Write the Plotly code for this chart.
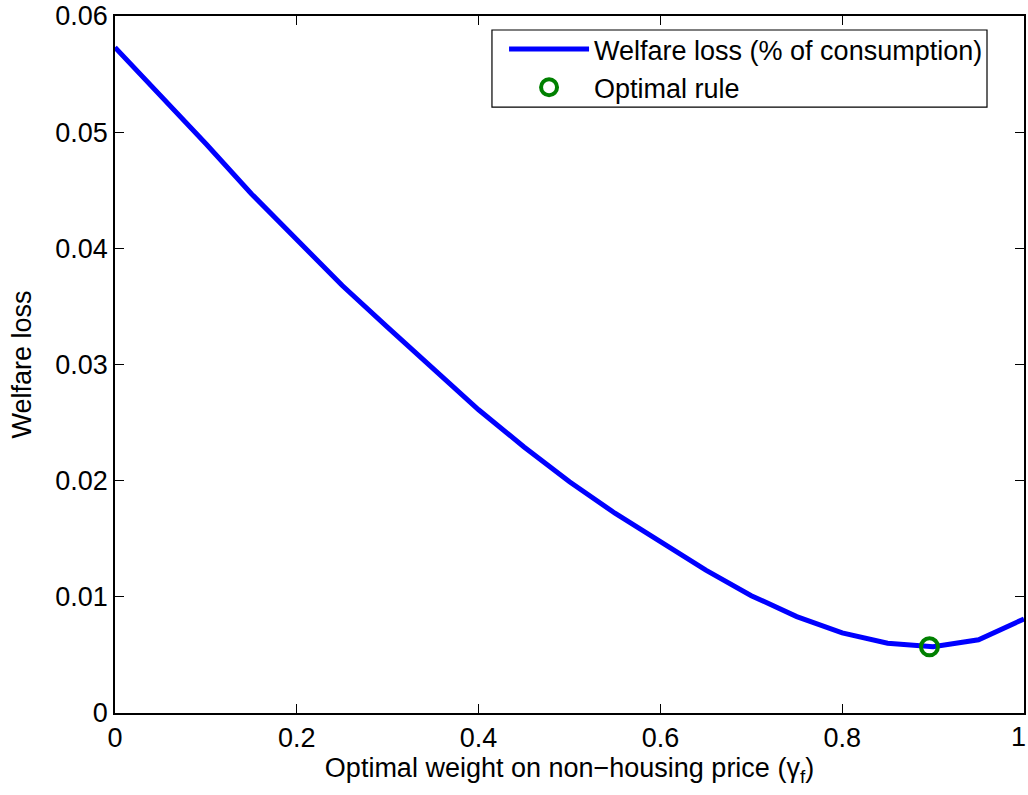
import plotly.graph_objects as go

# Data
gamma_f = [0.00, 0.05, 0.10, 0.15, 0.20, 0.25, 0.30, 0.35, 0.40, 0.45, 0.50,
           0.55, 0.60, 0.65, 0.70, 0.75, 0.80, 0.85, 0.90, 0.95, 1.00]
welfare_loss = [0.0573, 0.0532, 0.0490, 0.0447, 0.0407, 0.0368, 0.0332, 0.0296,
                0.0261, 0.0229, 0.0199, 0.0172, 0.0147, 0.0123, 0.0101, 0.0083,
                0.0069, 0.0060, 0.0057, 0.0063, 0.0081]
optimal_x = [0.896]
optimal_y = [0.0057]

x_ticks = [0, 0.2, 0.4, 0.6, 0.8, 1]
x_ticklabels = ["0", "0.2", "0.4", "0.6", "0.8", "1"]
y_ticks = [0, 0.01, 0.02, 0.03, 0.04, 0.05, 0.06]
y_ticklabels = ["0", "0.01", "0.02", "0.03", "0.04", "0.05", "0.06"]

FONT = "Arial, Liberation Sans, Helvetica, sans-serif"
FS = 27

fig = go.Figure()
fig.add_trace(go.Scatter(
    x=gamma_f, y=welfare_loss, mode="lines",
    name="Welfare loss (% of consumption)",
    line=dict(color="#0000ff", width=5),
))
fig.add_trace(go.Scatter(
    x=optimal_x, y=optimal_y, mode="markers",
    name="Optimal rule",
    marker=dict(symbol="circle-open", size=17, color="#008000",
                line=dict(color="#008000", width=4)),
))

axis_common = dict(
    showline=True, linecolor="black", linewidth=1.5, mirror="ticks",
    ticks="inside", ticklen=9, tickwidth=1, tickcolor="black",
    showgrid=False, zeroline=False,
    automargin=False,
    tickfont=dict(family=FONT, size=FS, color="black"),
)

# The last x tick label sits at the right page edge: draw it right-aligned
# so it stays fully inside the picture (as in the reference).
x_ticktext_drawn = x_ticklabels[:-1] + [""]
fig.add_annotation(
    x=x_ticks[-1], y=0, xref="x", yref="paper",
    text=x_ticklabels[-1], showarrow=False,
    xanchor="right", yanchor="middle", xshift=4, yshift=-24,
    font=dict(family=FONT, size=FS, color="black"),
)

# legend frame (MATLAB-style box)
fig.add_shape(
    type="rect", xref="paper", yref="paper",
    x0=0.4147, x1=0.9593, y0=0.8694, y1=0.9799,
    line=dict(color="black", width=1.2), fillcolor="white", layer="above",
)

fig.update_layout(
    width=1028, height=795,
    margin=dict(l=115, r=4, t=16, b=82),
    paper_bgcolor="white", plot_bgcolor="white",
    font=dict(family=FONT, size=FS, color="black"),
    xaxis=dict(
        range=[0, 1], tickvals=x_ticks, ticktext=x_ticktext_drawn,
        title=dict(text="Optimal weight on non\u2212housing price (\u03b3<sub>f</sub>)",
                   font=dict(family=FONT, size=FS, color="black"), standoff=0),
        **axis_common,
    ),
    yaxis=dict(
        range=[0, 0.06], tickvals=y_ticks, ticktext=y_ticklabels,
        title=dict(text="Welfare loss",
                   font=dict(family=FONT, size=FS, color="black"), standoff=16),
        **axis_common,
    ),
    legend=dict(
        x=0.428, y=0.987, xanchor="left", yanchor="top",
        bgcolor="rgba(0,0,0,0)", borderwidth=0,
        font=dict(family=FONT, size=FS, color="black"),
        itemwidth=80, tracegroupgap=0,
    ),
    showlegend=True,
)

fig.write_html(
    "out.html",
    config={"displayModeBar": False},
    post_script="document.body.style.margin='0';document.body.style.overflow='hidden';",
)
